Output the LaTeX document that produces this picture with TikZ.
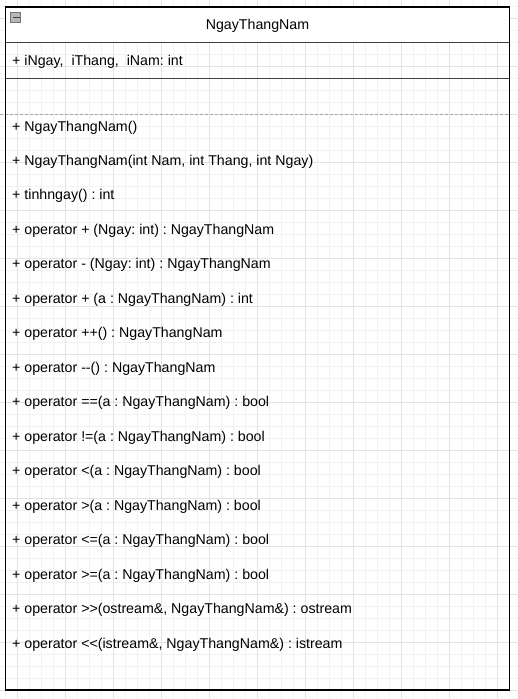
\documentclass[tikz,border=0pt]{standalone}
\usepackage{fontspec}
\setmainfont{Liberation Sans}
\begin{document}
\frenchspacing
\begin{tikzpicture}[x=1pt,y=-1pt,
  member/.style={anchor=base west,inner sep=0pt,font=\fontsize{14.2}{16}\selectfont},
  title/.style={anchor=base,inner sep=0pt,font=\fontsize{14.2}{16}\selectfont},
  minorgrid/.style={draw=black!5,line width=0.8pt},
  majorgrid/.style={draw=black!11,line width=0.8pt},
  frame/.style={draw=black,line width=1.4pt},
  divider/.style={draw=black!75,line width=1.4pt}]
\useasboundingbox (0,0) rectangle (518,699);
\fill[white] (0,0) rectangle (518,699);
% background grid
\foreach \k in {0,...,43} {
  \draw[minorgrid] ({5+12*\k},0) -- ({5+12*\k},699);
}
\foreach \k in {0,...,58} {
  \draw[minorgrid] (0,{6+12*\k}) -- (518,{6+12*\k});
}
\foreach \k in {0,...,10} {
  \draw[majorgrid] ({17+48*\k},0) -- ({17+48*\k},699);
}
\foreach \k in {0,...,14} {
  \draw[majorgrid] (0,{18+48*\k}) -- (518,{18+48*\k});
}
% page break
\draw[black!35,dash pattern=on 3pt off 2pt,line width=0.7pt] (0,114) -- (509,114);
% class header
\fill[white] (5.5,7) rectangle (509.5,42.5);
\draw[divider] (5.5,7) -- (509.5,7);
\draw[divider] (5.5,42.5) -- (509.5,42.5);
\draw[divider] (5.5,78.5) -- (509.5,78.5);
\draw[frame] (5.5,7) rectangle (509.5,690);
% collapse toggle
\node[draw=black!55,fill=black!28,line width=0.7pt,minimum width=10pt,minimum height=10pt,inner sep=0pt] (toggle) at (15.5,17.5) {};
\draw[black!75,line width=1pt] ([xshift=2pt]toggle.center) ++(-4.5pt,0) -- ++(7pt,0);
\node[title] (name) at (257.5,29.5) {NgayThangNam};
% attributes
\node[member] (attr) at (12,65) {+ iNgay,\ \ iThang,\ \ iNam: int};
% operations
\foreach \t [count=\i from 0] in {
  {+ NgayThangNam()},
  {+ NgayThangNam(int Nam, int Thang, int Ngay)},
  {+ tinhngay() : int},
  {+ operator + (Ngay: int) : NgayThangNam},
  {+ operator - (Ngay: int) : NgayThangNam},
  {+ operator + (a : NgayThangNam) : int},
  {+ operator ++() : NgayThangNam},
  {+ operator -{}-() : NgayThangNam},
  {+ operator ==(a : NgayThangNam) : bool},
  {+ operator !=(a : NgayThangNam) : bool},
  {+ operator <(a : NgayThangNam) : bool},
  {+ operator >(a : NgayThangNam) : bool},
  {+ operator <=(a : NgayThangNam) : bool},
  {+ operator >=(a : NgayThangNam) : bool},
  {+ operator >{}>(ostream\&, NgayThangNam\&) : ostream},
  {+ operator <{}<(istream\&, NgayThangNam\&) : istream}} {
  \node[member] (op\i) at (12,{131+34.47*\i}) {\t};
}
\end{tikzpicture}
\end{document}
